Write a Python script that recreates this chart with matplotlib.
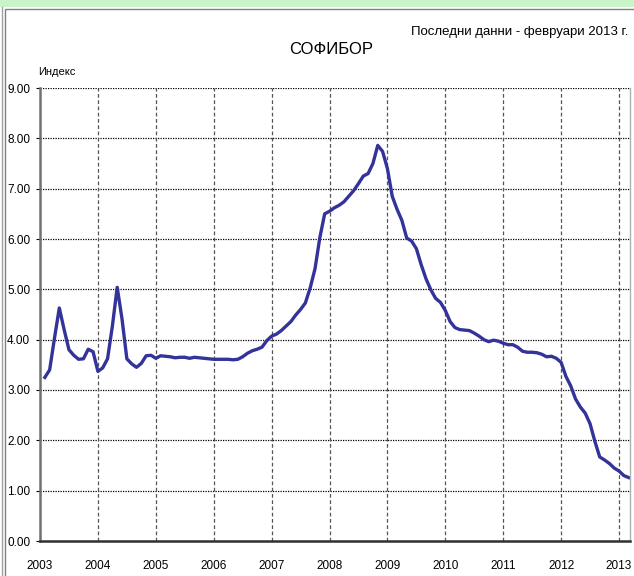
import numpy as np
import matplotlib.pyplot as plt
from matplotlib.patches import Rectangle

# monthly SOFIBOR, Jan 2003 - Feb 2013
sofibor = [
    3.25, 3.40, 4.03, 4.63, 4.20, 3.80, 3.69, 3.61, 3.62, 3.81, 3.76, 3.37,   # 2003
    3.44, 3.62, 4.27, 5.04, 4.41, 3.62, 3.52, 3.45, 3.53, 3.68, 3.69, 3.63,   # 2004
    3.68, 3.67, 3.66, 3.64, 3.65, 3.65, 3.63, 3.65, 3.64, 3.63, 3.62, 3.61,   # 2005
    3.61, 3.61, 3.61, 3.60, 3.61, 3.66, 3.73, 3.78, 3.81, 3.85, 3.98, 4.07,   # 2006
    4.11, 4.18, 4.27, 4.36, 4.49, 4.60, 4.73, 5.03, 5.41, 6.03, 6.50, 6.55,   # 2007
    6.62, 6.67, 6.74, 6.85, 6.96, 7.10, 7.25, 7.30, 7.50, 7.86, 7.74, 7.40,   # 2008
    6.85, 6.59, 6.37, 6.02, 5.96, 5.81, 5.49, 5.21, 4.99, 4.82, 4.74, 4.58,   # 2009
    4.36, 4.24, 4.20, 4.19, 4.18, 4.13, 4.07, 4.00, 3.96, 3.99, 3.97, 3.93,   # 2010
    3.90, 3.90, 3.85, 3.77, 3.75, 3.75, 3.74, 3.71, 3.66, 3.67, 3.63, 3.55,   # 2011
    3.27, 3.08, 2.82, 2.66, 2.54, 2.33, 1.98, 1.67, 1.61, 1.54, 1.45, 1.39,   # 2012
    1.30, 1.26,                                                               # 2013
]
years = list(range(2003, 2014))
yticks = [0, 1, 2, 3, 4, 5, 6, 7, 8, 9]

# months placed at end of month, in decimal years
t = 2003 + (np.arange(len(sofibor)) + 1) / 12.0

plt.rcParams['font.family'] = ['Liberation Sans', 'DejaVu Sans']

W, H = 634, 576
fig = plt.figure(figsize=(W / 100, H / 100), dpi=100)

# outer frame like the original screenshot
fig.patches.append(Rectangle((0, 1 - 7 / H), 1, 7 / H, transform=fig.transFigure,
                             facecolor='#c9f3c9', edgecolor='none'))
fig.patches.append(Rectangle((5 / W, -0.1), 1.2, 1 - 9 / H + 0.1, transform=fig.transFigure,
                             facecolor='none', edgecolor='#808080', lw=1))
fig.add_artist(plt.Line2D([1.5 / W, 1.5 / W], [0, 1 - 7 / H], transform=fig.transFigure,
                          color='#a0a0a0', lw=1))

ax = fig.add_axes([40 / W, 1 - 541 / H, 590 / W, 453 / H])
ax.plot(t, sofibor, color='#333399', lw=2.4, solid_joinstyle='round')

ax.set_xlim(2003, 2003 + 590 / 57.9)
ax.set_ylim(0, 9)
ax.set_xticks(years)
ax.set_xticklabels([str(y) for y in years], fontsize=8.5)
ax.set_yticks(yticks)
ax.set_yticklabels([f"{v:.2f}" for v in yticks], fontsize=8.5)
ax.tick_params(axis='x', length=0, pad=14)
ax.tick_params(axis='y', length=3, width=0.8, pad=4)

for v in yticks[1:]:
    ax.axhline(v, color='black', lw=0.9, ls=(0, (1, 1)), zorder=1)
for y in years[1:]:
    ax.axvline(y, color='#555555', lw=0.9, ls=(0, (3, 2)), zorder=1)

ax.spines['top'].set_visible(False)
ax.spines['left'].set_color('#707070')
ax.spines['left'].set_linewidth(1.8)
ax.spines['bottom'].set_color('#303030')
ax.spines['bottom'].set_linewidth(1.8)
ax.spines['right'].set_color('#b0b0b0')
ax.spines['right'].set_linewidth(1)

fig.text(331 / W, 1 - 50 / H, 'СОФИБОР', ha='center', va='center', fontsize=12)
fig.text(628 / W, 1 - 32 / H, 'Последни данни - февруари 2013 г.', ha='right', va='center',
         fontsize=9.5)
fig.text(38 / W, 1 - 72 / H, 'Индекс', ha='left', va='center', fontsize=8)

fig.savefig('out.png', dpi=100)
